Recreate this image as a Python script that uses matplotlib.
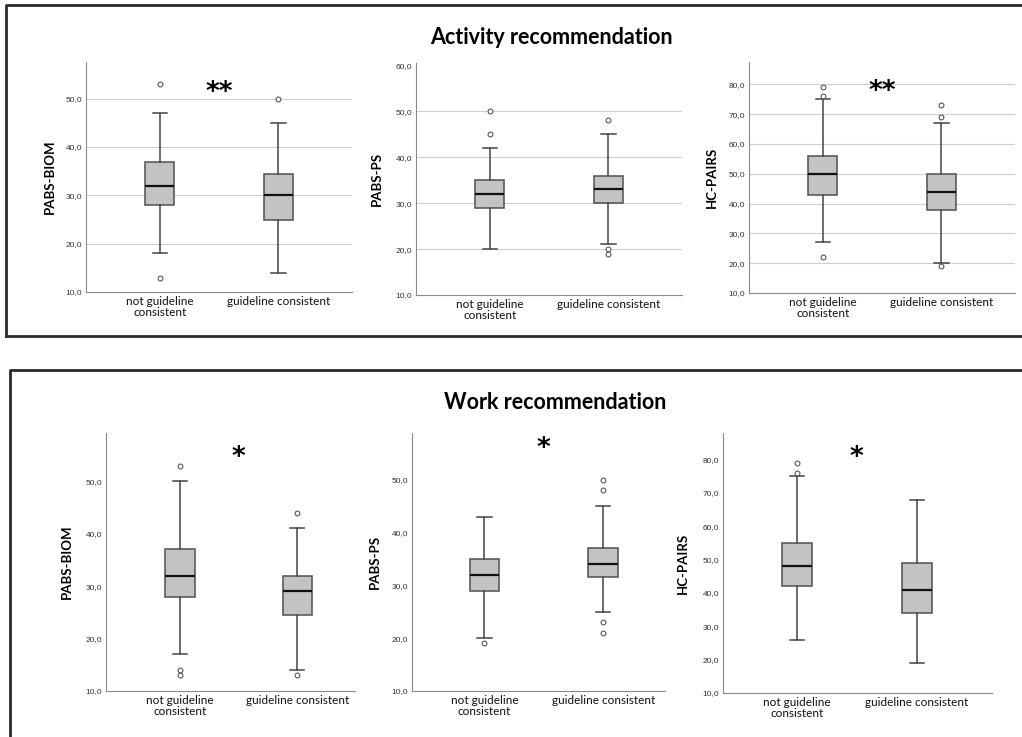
import matplotlib
matplotlib.use("Agg")
import matplotlib.pyplot as plt
from matplotlib.lines import Line2D

# ---- data ----
groups = ["not guideline\nconsistent", "guideline consistent"]

# activity recommendation: [q1, median, q3, whisker low, whisker high]
act_biom = [[28, 32, 37, 18, 47], [25, 30, 34.5, 14, 45]]
act_biom_out = [[53, 13], [50]]
act_ps = [[29, 32, 35, 20, 42], [30, 33, 36, 21, 45]]
act_ps_out = [[45, 50], [48, 20, 19]]
act_hc = [[43, 50, 56, 27, 75], [38, 44, 50, 20, 67]]
act_hc_out = [[76, 79, 22], [69, 73, 19]]

# work recommendation
work_biom = [[28, 32, 37, 17, 50], [24.5, 29, 32, 14, 41]]
work_biom_out = [[53, 14, 13], [44, 13]]
work_ps = [[29, 32, 35, 20, 43], [31.5, 34, 37, 25, 45]]
work_ps_out = [[19], [48, 50, 23, 21]]
work_hc = [[42, 48, 55, 26, 75], [34, 41, 49, 19, 68]]
work_hc_out = [[76, 79], []]

W, H = 1022, 737
fig = plt.figure(figsize=(W / 100, H / 100), dpi=100)
fig.patch.set_facecolor("white")


def px_axes(left, top, right, bottom):
    return fig.add_axes([left / W, 1 - bottom / H, (right - left) / W, (bottom - top) / H])


def make_stats(vals, outs):
    stats = []
    for (q1, med, q3, lo, hi), fl in zip(vals, outs):
        stats.append(dict(q1=q1, med=med, q3=q3, whislo=lo, whishi=hi, fliers=fl))
    return stats


def draw_panel(rect, vals, outs, label, ylim, ticks, xlim, grid, star, star_pos, label_x):
    ax = px_axes(*rect)
    ax.bxp(make_stats(vals, outs), positions=[0, 1], widths=0.25, patch_artist=True,
           showfliers=True,
           boxprops=dict(facecolor="#c3c3c3", edgecolor="#505050", linewidth=1.1),
           medianprops=dict(color="#111111", linewidth=1.6),
           whiskerprops=dict(color="#444444", linewidth=1.1),
           capprops=dict(color="#444444", linewidth=1.1),
           capwidths=0.12,
           flierprops=dict(marker="o", markersize=3.5, markerfacecolor="white",
                           markeredgecolor="#444444", markeredgewidth=0.7))
    ax.set_ylim(*ylim)
    ax.set_xlim(*xlim)
    ax.set_yticks(ticks)
    ax.set_yticklabels([f"{t:.1f}".replace(".", ",") for t in ticks],
                       fontsize=6, color="#333333", family="Liberation Sans")
    ax.set_xticks([0, 1])
    ax.set_xticklabels(groups, fontsize=8.5, family="Lato", color="#111111", linespacing=1.0)
    ax.tick_params(length=0, pad=3)
    for s in ["top", "right"]:
        ax.spines[s].set_visible(False)
    for s in ["left", "bottom"]:
        ax.spines[s].set_color("#8a8a8a")
        ax.spines[s].set_linewidth(0.8)
    if grid:
        for t in ticks[1:]:
            if t < ylim[1] - 1:
                ax.axhline(t, color="#cfcfcf", linewidth=0.8, zorder=0)
    ax.text(star_pos[0], star_pos[1], star, fontsize=19, fontweight="bold",
            ha="center", va="center", family="DejaVu Sans")
    fig.text(label_x / W, 1 - ((rect[1] + rect[3]) / 2) / H, label, rotation=90,
             ha="center", va="center", fontsize=9.5, fontweight="bold", family="Lato")
    return ax


# frames around the two groups
fig.add_artist(Line2D([6 / W, 6 / W, 1.0], [1 - 336 / H, 1 - 5 / H, 1 - 5 / H],
                      color="#2b2b2b", linewidth=2))
fig.add_artist(Line2D([6 / W, 1.0], [1 - 336 / H, 1 - 336 / H], color="#2b2b2b", linewidth=2))
fig.add_artist(Line2D([10 / W, 10 / W, 1.0], [0.0, 1 - 370 / H, 1 - 370 / H],
                      color="#2b2b2b", linewidth=2))

fig.text(551 / W, 1 - 38 / H, "Activity recommendation", fontsize=15.5, fontweight="bold",
         family="Lato", ha="center", va="center")
fig.text(555 / W, 1 - 403 / H, "Work recommendation", fontsize=15.5, fontweight="bold",
         family="Lato", ha="center", va="center")

top_x = (-0.62, 1.62)
draw_panel((86, 62, 352, 292), act_biom, act_biom_out, "PABS-BIOM", (10, 57.6),
           [10, 20, 30, 40, 50], top_x, True, "**", (0.5, 51.2), 50)
draw_panel((416, 63, 682, 295), act_ps, act_ps_out, "PABS-PS", (10, 60.5),
           [10, 20, 30, 40, 50, 60], top_x, True, "", (0.5, 55), 377)
draw_panel((749, 62, 1015, 293), act_hc, act_hc_out, "HC-PAIRS", (10, 87.5),
           [10, 20, 30, 40, 50, 60, 70, 80], top_x, True, "**", (0.5, 77.5), 712)

draw_panel((106, 433, 355, 691), work_biom, work_biom_out, "PABS-BIOM", (10, 59.2),
           [10, 20, 30, 40, 50], (-0.63, 1.49), False, "*", (0.5, 54.5), 67)
draw_panel((412, 433, 665, 691), work_ps, work_ps_out, "PABS-PS", (10, 58.8),
           [10, 20, 30, 40, 50], (-0.61, 1.52), False, "*", (0.5, 55.8), 375)
draw_panel((723, 433, 992, 693), work_hc, work_hc_out, "HC-PAIRS", (10, 88),
           [10, 20, 30, 40, 50, 60, 70, 80], (-0.62, 1.63), False, "*", (0.5, 80.5), 683)

fig.savefig("out.png", dpi=100, facecolor="white")
